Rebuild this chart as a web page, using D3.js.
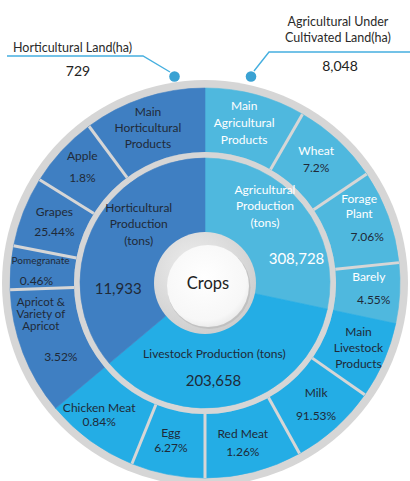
<!DOCTYPE html>
<html><head><meta charset="utf-8">
<script src="https://cdn.jsdelivr.net/npm/d3@7/dist/d3.min.js"></script>
<style>html,body{margin:0;padding:0;background:#fff}svg{display:block}</style>
</head><body>
<script>
// ---- data ----
const groupNames = ["Agricultural", "Livestock", "Horticultural"];
const groupTitles = ["Agricultural\nProduction\n(tons)", "Livestock Production (tons)", "Horticultural\nProduction\n(tons)"];
const groupTotals = ["308,728", "203,658", "11,933"];
const groupWeights = [102, 128, 130]; // visual share of the ring as drawn (degrees)

const outerLabels = ["Main\nAgricultural\nProducts", "Wheat", "Forage\nPlant", "Barely",
  "Main\nLivestock\nProducts", "Milk", "Red Meat", "Egg", "Chicken Meat",
  "Apricot &\nVariety of\nApricot", "Pomegranate", "Grapes", "Apple", "Main\nHorticultural\nProducts"];
const outerShares = ["", "7.2%", "7.06%", "4.55%", "", "91.53%", "1.26%", "6.27%", "0.84%",
  "3.52%", "0.46%", "25.44%", "1.8%", ""];
const outerGroup = [0,0,0,0,1,1,1,1,1,2,2,2,2,2];
const outerWeights = [30, 26, 28, 18, 23, 26, 29, 22, 28, 38, 13, 21, 21.5, 36.5];

const landLabels = ["Horticultural Land(ha)", "Agricultural Under\nCultivated Land(ha)"];
const landValues = ["729", "8,048"];
const centerLabel = "Crops";

// ---- layout / style ----
const W = 410, H = 481, cx = 205, cy = 283;
const groupFill = ["#4fb8de", "#24ade5", "#3f7fc2"];
const darkText = "#1f2a38";
const ringGray = "#d6d6d6";
const lineBlue = "#45afdf", dotBlue = "#3aa2d3";
const FONT = "Lato, 'Open Sans', sans-serif";

// label tweaks (per outer segment)
const outerLayout = [
  {dx:-3,dy:-3,lh:17,gap:17},{dx:0,dy:-5,lh:16,gap:17},{dx:1,dy:-10,lh:15,gap:23,pdx:8},
  {dx:1,dy:-4,lh:16,gap:23,pdx:5},{dx:4,dy:0,lh:16,gap:16},{dx:2,dy:0,lh:16,gap:23},
  {dx:-3,dy:2,lh:16,gap:18},{dx:-3,dy:-3,lh:16,gap:15},{dx:-10,dy:0,lh:16,gap:14},
  {dx:-12,dy:-12,lh:12,gap:31,pdx:20,fs:11.5},{dx:-2,dy:0,lh:16,gap:20,fs:10,pdx:-4},{dx:1,dy:-2,lh:16,gap:20},
  {dx:-3,dy:-6,lh:16,gap:22},{dx:-6,dy:-1,lh:16,gap:16}
];
const outerTextColor = (i) => outerGroup[i] === 0 ? "#ffffff" : darkText;
const groupLayout = [
  {tf:0.37,tr:98,nf:0.73,nr:95,lh:16.5,tc:"#ffffff",nc:"#ffffff"},
  {tf:0.55,tr:71,nf:0.57,nr:97,lh:16,tc:darkText,nc:darkText},
  {tf:0.63,tr:89,nf:0.28,nr:87,lh:16.5,tc:darkText,nc:darkText}
];

const R_IN1 = 125, R_MID1 = 131, R_OUT1 = 195, R_GRAY = 203;

const svg = d3.select("body").append("svg").attr("width", W).attr("height", H)
  .style("font-family", FONT);
const defs = svg.append("defs");

const g = svg.append("g").attr("transform", `translate(${cx},${cy})`);

const pie = d3.pie().sort(null).value(d => d).startAngle(0).endAngle(2 * Math.PI);
const innerArcs = pie(groupWeights);
const outerArcs = pie(outerWeights);

// outer gray frame
g.append("circle").attr("r", R_GRAY).attr("fill", ringGray);

// outer ring
const arcOuter = d3.arc().innerRadius(R_MID1).outerRadius(R_OUT1);
g.selectAll("path.outer").data(outerArcs).join("path").attr("class", "outer")
  .attr("d", arcOuter).attr("fill", (d, i) => groupFill[outerGroup[i]])
  .attr("stroke", (d, i) => groupFill[outerGroup[i]]).attr("stroke-width", 0.6);

// separators inside a group
outerArcs.forEach((d, i) => {
  const nxt = (i + 1) % outerArcs.length;
  if (outerGroup[nxt] !== outerGroup[i]) return;
  const a = d.endAngle;
  g.append("line")
    .attr("x1", R_MID1 * Math.sin(a)).attr("y1", -R_MID1 * Math.cos(a))
    .attr("x2", R_OUT1 * Math.sin(a)).attr("y2", -R_OUT1 * Math.cos(a))
    .attr("stroke", ringGray).attr("stroke-width", 3);
});

// middle gray band
g.append("circle").attr("r", R_MID1).attr("fill", ringGray);

// inner ring
const arcInner = d3.arc().innerRadius(0).outerRadius(R_IN1);
g.selectAll("path.inner").data(innerArcs).join("path").attr("class", "inner")
  .attr("d", arcInner).attr("fill", (d, i) => groupFill[i])
  .attr("stroke", (d, i) => groupFill[i]).attr("stroke-width", 0.6);

// center: gray ring with long shadow, white disc
const rg = defs.append("radialGradient").attr("id", "ringG").attr("cx", "40%").attr("cy", "35%").attr("r", "70%");
rg.append("stop").attr("offset", "0%").attr("stop-color", "#eeeeee");
rg.append("stop").attr("offset", "100%").attr("stop-color", "#cdcdcd");
g.append("circle").attr("r", 51).attr("fill", "url(#ringG)");

defs.append("clipPath").attr("id", "ringClip").append("circle").attr("cx", cx).attr("cy", cy).attr("r", 51);
const wcx = 3, wcy = 3, wr = 41;
const lg = defs.append("linearGradient").attr("id", "shadowG").attr("x1", "0%").attr("y1", "0%").attr("x2", "100%").attr("y2", "100%");
lg.append("stop").attr("offset", "0%").attr("stop-color", "#9e9e9e").attr("stop-opacity", 0.9);
lg.append("stop").attr("offset", "100%").attr("stop-color", "#c4c4c4").attr("stop-opacity", 0.6);
const s2 = Math.SQRT1_2, L = 70;
const p1 = [wcx - wr * s2, wcy + wr * s2], p2 = [wcx + wr * s2, wcy - wr * s2];
svg.append("path").attr("clip-path", "url(#ringClip)")
  .attr("transform", `translate(${cx},${cy})`)
  .attr("d", `M${p1[0]},${p1[1]} L${p1[0] + L},${p1[1] + L} L${p2[0] + L},${p2[1] + L} L${p2[0]},${p2[1]} Z`)
  .attr("fill", "url(#shadowG)");

const wg = defs.append("radialGradient").attr("id", "whiteG").attr("cx", "45%").attr("cy", "40%").attr("r", "65%");
wg.append("stop").attr("offset", "0%").attr("stop-color", "#ffffff");
wg.append("stop").attr("offset", "80%").attr("stop-color", "#f7f7f7");
wg.append("stop").attr("offset", "100%").attr("stop-color", "#e6e6e6");
const gc = svg.append("g").attr("transform", `translate(${cx},${cy})`);
gc.append("circle").attr("cx", wcx + 1).attr("cy", wcy + 1.5).attr("r", wr + 0.5).attr("fill", "#b5b5b5").attr("opacity", 0.6);
gc.append("circle").attr("cx", wcx).attr("cy", wcy).attr("r", wr).attr("fill", "url(#whiteG)");
gc.append("text").attr("x", wcx).attr("y", wcy - 3).attr("text-anchor", "middle")
  .attr("dominant-baseline", "central").attr("font-size", 16.5).attr("fill", "#222").text(centerLabel);

// helper: multi-line text centred at (x,y)
function block(parent, x, y, lines, opts) {
  const lh = opts.lh, gap = opts.gap || lh;
  const pos = [];
  lines.forEach((l, k) => pos.push(k === 0 ? 0 : pos[k - 1] + ((opts.pctIndex === k) ? gap : lh)));
  const total = pos[pos.length - 1];
  lines.forEach((l, k) => {
    parent.append("text")
      .attr("x", x + ((opts.pctIndex === k) ? (opts.pdx || 0) : 0))
      .attr("y", y - total / 2 + pos[k])
      .attr("text-anchor", "middle").attr("dominant-baseline", "central")
      .attr("font-size", (opts.pctIndex === k) ? (opts.pfs || 12) : (opts.fs || 12))
      .attr("fill", (opts.pctIndex === k) ? opts.pc : opts.c)
      .text(l);
  });
}

// outer labels
const arcLab = d3.arc().innerRadius(163).outerRadius(163);
outerArcs.forEach((d, i) => {
  const [x, y] = arcLab.centroid(d);
  const lay = outerLayout[i];
  const lines = outerLabels[i].split("\n");
  let pctIndex = -1;
  if (outerShares[i]) { lines.push(outerShares[i]); pctIndex = lines.length - 1; }
  block(g, x + lay.dx, y + lay.dy, lines, {
    lh: lay.lh, gap: lay.gap, pctIndex, pdx: lay.pdx, fs: lay.fs || 12,
    c: outerTextColor(i), pc: darkText
  });
});

// inner labels
innerArcs.forEach((d, i) => {
  const lay = groupLayout[i];
  const span = d.endAngle - d.startAngle;
  const at = d.startAngle + lay.tf * span, an = d.startAngle + lay.nf * span;
  const tl = groupTitles[i].split("\n");
  block(g, lay.tr * Math.sin(at), -lay.tr * Math.cos(at), tl, {lh: lay.lh, c: lay.tc, fs: 12});
  g.append("text").attr("x", lay.nr * Math.sin(an)).attr("y", -lay.nr * Math.cos(an))
    .attr("text-anchor", "middle").attr("dominant-baseline", "central")
    .attr("font-size", 15).attr("fill", lay.nc).text(groupTotals[i]);
});

// land annotations
const ann = svg.append("g");
ann.append("path").attr("d", "M7,56 L143,56 L170,72").attr("fill", "none").attr("stroke", lineBlue).attr("stroke-width", 1.4);
ann.append("circle").attr("cx", 174.5).attr("cy", 76.5).attr("r", 5.3).attr("fill", dotBlue);
ann.append("text").attr("x", 13).attr("y", 47).attr("dominant-baseline", "central")
  .attr("font-size", 12.5).attr("fill", "#2a2a2a").text(landLabels[0]);
ann.append("text").attr("x", 78).attr("y", 70.5).attr("text-anchor", "middle").attr("dominant-baseline", "central")
  .attr("font-size", 14).attr("fill", "#222").text(landValues[0]);

ann.append("path").attr("d", "M410,52 L269,52 L254,71").attr("fill", "none").attr("stroke", lineBlue).attr("stroke-width", 1.4);
ann.append("circle").attr("cx", 251).attr("cy", 76.5).attr("r", 5.3).attr("fill", dotBlue);
landLabels[1].split("\n").forEach((l, k) => {
  ann.append("text").attr("x", 338).attr("y", 21 + k * 16).attr("text-anchor", "middle").attr("dominant-baseline", "central")
    .attr("font-size", 12.5).attr("fill", "#2a2a2a").text(l);
});
ann.append("text").attr("x", 340).attr("y", 65).attr("text-anchor", "middle").attr("dominant-baseline", "central")
  .attr("font-size", 14).attr("fill", "#222").text(landValues[1]);
</script>
</body></html>
